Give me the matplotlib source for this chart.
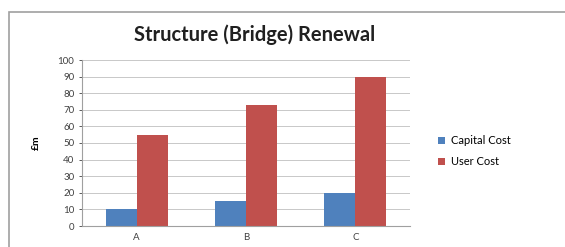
import matplotlib.pyplot as plt
import numpy as np
from matplotlib.patches import Rectangle

categories = ['A', 'B', 'C']
capital_cost = [10, 15, 20]
user_cost = [55, 73, 90]

W, H = 565, 247
fig = plt.figure(figsize=(W / 100, H / 100), dpi=100)
plt.rcParams['font.family'] = ['Lato', 'DejaVu Sans']

# outer chart border (runs off the right/bottom edges)
fig.patches.append(Rectangle((9 / W, -0.1), 1.2, 1 - 12 / H + 0.1, transform=fig.transFigure,
                             fill=False, edgecolor='#a0a0a0', lw=1.2))

ax = fig.add_axes([82 / W, 1 - 226 / H, (410 - 82) / W, (226 - 60) / H])
x = np.arange(len(categories))
bw = 0.285
ax.bar(x - bw / 2, capital_cost, bw, color='#4F81BD', label='Capital Cost')
ax.bar(x + bw / 2, user_cost, bw, color='#C0504D', label='User Cost')

ax.set_xlim(-0.5, 2.5)
ax.set_ylim(0, 100)
ax.set_yticks(range(0, 101, 10))
ax.set_xticks(x)
ax.set_xticklabels(categories)
ax.tick_params(axis='both', labelsize=7, colors='#404040', length=2, width=0.6)
ax.tick_params(axis='x', length=0, pad=5)
ax.grid(axis='y', color='#c8c8c8', lw=0.7)
ax.set_axisbelow(True)
for s in ['top', 'right']:
    ax.spines[s].set_visible(False)
ax.spines['left'].set_color('#a0a0a0')
ax.spines['bottom'].set_color('#a0a0a0')
ax.set_ylabel('£m', fontsize=7.5, fontweight='bold', labelpad=12)

fig.text(255 / W, 1 - 35 / H, 'Structure (Bridge) Renewal', ha='center', va='center',
         fontsize=14.5, fontweight='bold', color='#202020')

ax.legend(loc='center left', bbox_to_anchor=(428 / W, 1 - 151 / H), bbox_transform=fig.transFigure,
          frameon=False, fontsize=8, handlelength=0.6, handleheight=0.6, labelspacing=0.9,
          handletextpad=0.6)

fig.savefig('out.png', dpi=100)
